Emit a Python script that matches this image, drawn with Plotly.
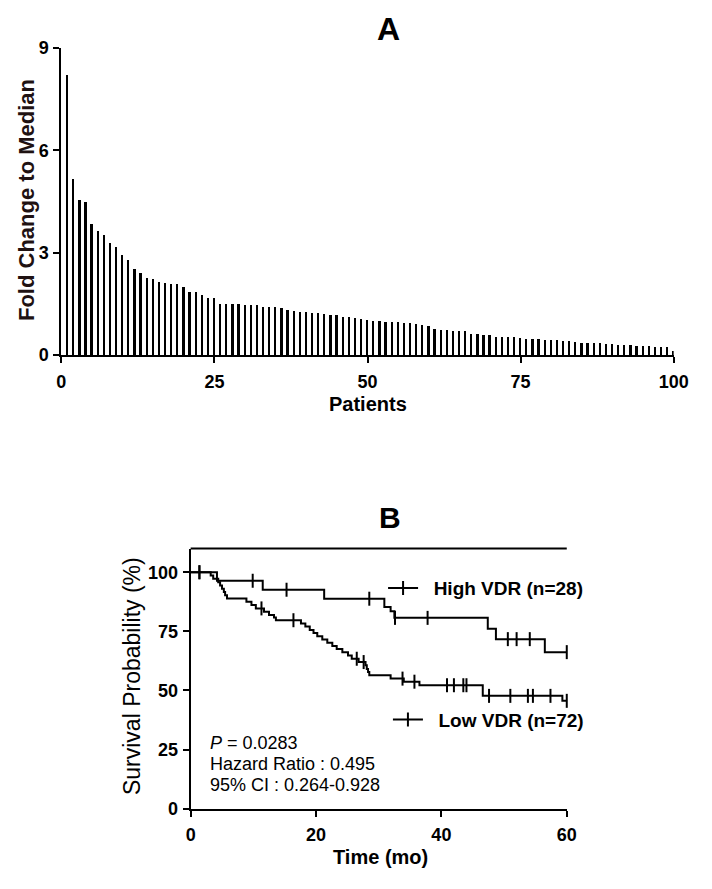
import numpy as np
import plotly.graph_objects as go

# ---------------- Panel A data ----------------
patients = list(range(1, 101))
fold_change = [
    8.20, 5.15, 4.55, 4.48, 3.85, 3.62, 3.52, 3.29, 3.17, 2.94,
    2.79, 2.52, 2.41, 2.25, 2.22, 2.14, 2.11, 2.07, 2.07, 2.00,
    1.84, 1.84, 1.76, 1.68, 1.68, 1.49, 1.49, 1.49, 1.49, 1.45,
    1.45, 1.45, 1.42, 1.42, 1.42, 1.38, 1.33, 1.30, 1.26, 1.26,
    1.23, 1.23, 1.21, 1.16, 1.16, 1.12, 1.12, 1.08, 1.04, 1.02,
    1.00, 1.00, 0.97, 0.97, 0.96, 0.93, 0.93, 0.92, 0.89, 0.85,
    0.77, 0.74, 0.74, 0.70, 0.70, 0.69, 0.62, 0.62, 0.58, 0.58,
    0.54, 0.54, 0.53, 0.52, 0.51, 0.48, 0.48, 0.47, 0.43, 0.43,
    0.43, 0.41, 0.40, 0.38, 0.36, 0.36, 0.34, 0.34, 0.33, 0.32,
    0.30, 0.30, 0.28, 0.27, 0.25, 0.25, 0.23, 0.22, 0.22, 0.12,
]
a_xticks = [0, 25, 50, 75, 100]
a_yticks = [0, 3, 6, 9]

# ---------------- Panel B data ----------------
high_t = [0, 4.2, 11.5, 21.3, 30.9, 31.9, 32.5, 47.4, 48.7, 56.5, 60]
high_s = [100, 96.4, 92.6, 88.8, 85.3, 83.5, 80.7, 76.1, 71.7, 66.2, 66.2]
high_cens = [1.4, 9.9, 15.3, 28.5, 32.6, 37.8, 50.6, 52.0, 54.1, 60]

low_t = [0, 3.2, 3.6, 4.4, 4.7, 5.0, 5.3, 5.5, 5.8, 8.9, 9.7, 10.4, 11.7, 12.5,
         13.3, 13.6, 17.6, 18.3, 19.0, 19.6, 20.2, 21.0, 21.8, 22.6, 23.3, 24.2,
         25.1, 25.7, 26.8, 27.9, 28.1, 28.3, 28.5, 31.9, 34.0, 36.5, 46.6, 59.3, 60]
low_s = [100, 98.6, 97.2, 95.8, 94.4, 93.0, 91.6, 90.3, 88.9, 87.5, 86.1, 84.7, 83.3, 81.9,
         80.9, 79.7, 78.3, 77.0, 75.6, 74.3, 72.9, 71.5, 70.2, 68.8, 67.5, 66.1,
         64.8, 63.4, 62.0, 60.6, 59.1, 57.8, 56.4, 55.0, 53.7, 52.2, 47.7, 45.6, 45.6]
low_cens = [1.4, 11.3, 16.4, 26.5, 27.6, 33.8, 35.7, 40.9, 42.0, 43.5, 44.0,
            47.6, 51.0, 53.8, 54.6, 57.4, 60]

b_xticks = [0, 20, 40, 60]
b_yticks = [0, 25, 50, 75, 100]
high_label = "High VDR (n=28)"
low_label = "Low VDR (n=72)"
stats_lines = ["<i>P</i> = 0.0283", "Hazard Ratio : 0.495", "95% CI : 0.264-0.928"]


def step_value(times, surv, t):
    idx = np.searchsorted(np.asarray(times), t, side="right") - 1
    return [surv[i] for i in idx]


W, H = 712, 889
FONT = "Liberation Sans, Arial, sans-serif"
INK = "black"
GAP = "\u00a0\u00a0"

fig = go.Figure()

fig.add_trace(go.Bar(
    x=patients, y=fold_change, width=0.37,
    marker=dict(color=INK, line=dict(width=0)),
    xaxis="x", yaxis="y", showlegend=False,
))

# KM curves
for t, s, c in [(high_t, high_s, high_cens), (low_t, low_s, low_cens)]:
    fig.add_trace(go.Scatter(
        x=t, y=s, mode="lines", line=dict(color=INK, width=2, shape="hv"),
        xaxis="x2", yaxis="y2", showlegend=False, cliponaxis=False,
    ))
    fig.add_trace(go.Scatter(
        x=c, y=step_value(t, s, c), mode="markers",
        marker=dict(symbol="line-ns", size=10, line=dict(width=2, color=INK)),
        xaxis="x2", yaxis="y2", showlegend=False, cliponaxis=False,
    ))

# legend keys
for name, lg in [(high_label, "legend"), (low_label, "legend2")]:
    fig.add_trace(go.Scatter(
        x=[None], y=[None], mode="lines+markers", name=GAP + name,
        line=dict(color=INK, width=2),
        marker=dict(symbol="line-ns", size=10, line=dict(width=2, color=INK)),
        xaxis="x2", yaxis="y2", legend=lg, showlegend=True,
    ))

tickfont = dict(family=FONT, size=18, color=INK, weight="bold")
axis_common = dict(
    showline=True, linecolor=INK, linewidth=2, ticks="outside", ticklen=6,
    tickwidth=2, tickcolor=INK, tickfont=tickfont, showgrid=False,
    zeroline=False, mirror=False,
)

legend_common = dict(
    font=dict(family=FONT, size=19, color=INK, weight="bold"),
    bgcolor="rgba(0,0,0,0)", borderwidth=0, itemwidth=30,
    xanchor="left", yanchor="middle",
)


def ann(text, px, py, size, bold=True, angle=0, color=INK):
    return dict(text=text, x=px / W, y=1 - py / H, xref="paper", yref="paper",
                xanchor="center", yanchor="middle", textangle=angle, showarrow=False,
                font=dict(family=FONT, size=size, color=color,
                          weight="bold" if bold else "normal"))


annotations = [
    ann("A", 395, 19, 32),
    ann("B", 396, 519, 30),
    ann("Fold Change to Median", 22, 194, 22, angle=-90, color="#1f1212"),
    ann("Patients", 373, 403, 20),
    ann("Survival Probability (%)", 130, 681, 23, bold=False, angle=-90),
    ann("Time (mo)", 386, 866, 20),
]
for i, line in enumerate(stats_lines):
    annotations.append(dict(
        text=line, x=2.7, y=27.8 - i * 8.9, xref="x2", yref="y2",
        xanchor="left", yanchor="middle", showarrow=False,
        font=dict(family=FONT, size=18, color=INK),
    ))

fig.update_layout(
    width=W, height=H, autosize=False,
    margin=dict(l=0, r=0, t=0, b=0),
    paper_bgcolor="white", plot_bgcolor="white",
    xaxis=dict(domain=[58 / W, 688 / W], range=[0, 100], tickvals=a_xticks,
               anchor="y", ticklabelstandoff=3, **axis_common),
    yaxis=dict(domain=[1 - 353 / H, 1 - 39 / H], range=[0, 9], tickvals=a_yticks,
               anchor="x", ticklabelstandoff=1, **axis_common),
    xaxis2=dict(domain=[191 / W, 578 / W], range=[0, 60], tickvals=b_xticks,
                anchor="y2", ticklabelstandoff=3, **axis_common),
    yaxis2=dict(domain=[1 - 817 / H, 1 - 551 / H], range=[0, 110], tickvals=b_yticks,
                anchor="x2", ticklabelstandoff=1, **axis_common),
    legend=dict(x=389 / W, y=1 - 591.5 / H, **legend_common),
    legend2=dict(x=394 / W, y=1 - 726 / H, **legend_common),
    shapes=[dict(type="line", xref="x2 domain", yref="y2 domain", x0=0, x1=1,
                 y0=1, y1=1, line=dict(color=INK, width=2))],
    annotations=annotations,
    bargap=0,
)

fig.write_html("out.html", config={"displayModeBar": False},
               post_script="document.body.style.margin='0';")
